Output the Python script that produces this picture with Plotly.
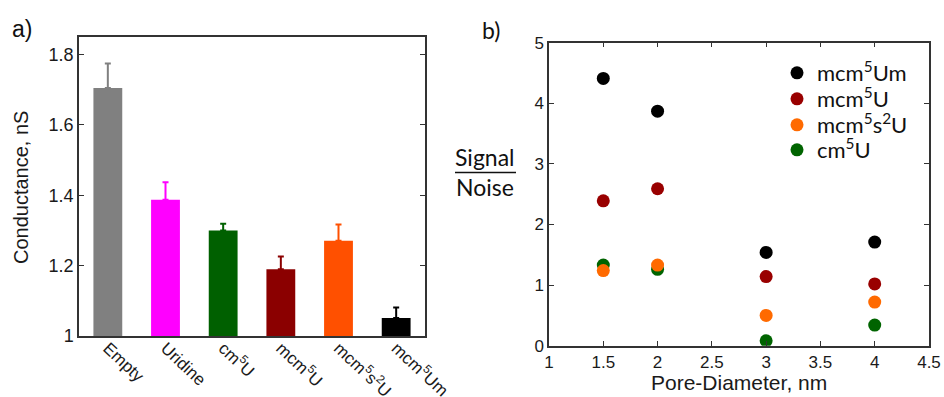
import plotly.graph_objects as go

# ---- panel a) data ----
categories = ["Empty", "Uridine", "cm<sup>5</sup>U", "mcm<sup>5</sup>U",
              "mcm<sup>5</sup>s<sup>2</sup>U", "mcm<sup>5</sup>Um"]
conductance = [1.705, 1.387, 1.300, 1.190, 1.271, 1.051]
conductance_err = [0.070, 0.050, 0.019, 0.036, 0.046, 0.030]
bar_colors = ["#808080", "#ff00ff", "#006000", "#8b0000", "#ff5000", "#000000"]
y_ticks_a = [1, 1.2, 1.4, 1.6, 1.8]
y_ticktext_a = ["1", "1.2", "1.4", "1.6", "1.8"]

# ---- panel b) data ----
pore_diameter = [1.5, 2, 3, 4]
sn_mcm5Um = [4.41, 3.87, 1.54, 1.71]
sn_mcm5U = [2.39, 2.59, 1.14, 1.02]
sn_mcm5s2U = [1.24, 1.33, 0.50, 0.72]
sn_cm5U = [1.33, 1.26, 0.08, 0.34]
series_names = ["mcm<sup>5</sup>Um", "mcm<sup>5</sup>U", "mcm<sup>5</sup>s<sup>2</sup>U", "cm<sup>5</sup>U"]
series_colors = ["#000000", "#990000", "#ff6a00", "#006400"]

W, H = 944, 397
fig = go.Figure()


def px(x):
    return x / W


def py(y):
    return 1 - y / H


# bars (one trace per category so each error bar shares its bar colour)
for cat, val, err, col in zip(categories, conductance, conductance_err, bar_colors):
    fig.add_trace(go.Bar(
        x=[cat], y=[val], base=0, width=0.5,
        marker=dict(color=col, line=dict(width=0)),
        error_y=dict(type="data", symmetric=False, array=[err], arrayminus=[0],
                     color=col, thickness=2, width=3),
        xaxis="x", yaxis="y", showlegend=False))

# scatter series (draw order: green, orange, red, black); one legend box per series
series = [sn_mcm5Um, sn_mcm5U, sn_mcm5s2U, sn_cm5U]
legend_ids = ["legend", "legend2", "legend3", "legend4"]
draw_order = [3, 2, 1, 0]
for i in draw_order:
    fig.add_trace(go.Scatter(
        x=pore_diameter, y=series[i], mode="markers", name=series_names[i],
        marker=dict(color=series_colors[i], size=13, line=dict(width=0)),
        legend=legend_ids[i], xaxis="x2", yaxis="y2"))

helv = "Liberation Sans, Arial, Helvetica, sans-serif"
cal = "Lato, Open Sans, sans-serif"
axis_col = "#333333"
txt_col = "#1a1a1a"

legend_rows_y = [73, 99, 125, 150]
legend_common = dict(x=px(777), xanchor="left", yanchor="middle",
                     font=dict(size=22, family=cal, color="#111"),
                     bgcolor="rgba(0,0,0,0)", itemsizing="trace", itemwidth=30)

fig.update_layout(
    width=W, height=H, margin=dict(l=0, r=0, t=0, b=0),
    paper_bgcolor="white", plot_bgcolor="white",
    barmode="overlay", showlegend=True,
    font=dict(family=helv, color=txt_col),
    xaxis=dict(domain=[px(79), px(425)], type="category", range=[-0.5, 5.5],
               showline=True, linecolor=axis_col, linewidth=1.5, mirror=True,
               ticks="", tickangle=43, ticklabelstandoff=-6,
               tickfont=dict(size=17, family=helv, color=txt_col),
               showgrid=False, zeroline=False, automargin=False, anchor="y"),
    yaxis=dict(domain=[py(336), py(37)], range=[1, 1.85],
               tickvals=y_ticks_a, ticktext=y_ticktext_a,
               showline=True, linecolor=axis_col, linewidth=1.5, mirror="ticks",
               ticks="inside", ticklen=5, tickcolor=axis_col,
               tickfont=dict(size=18, family=helv, color=txt_col),
               showgrid=False, zeroline=False, automargin=False, anchor="x"),
    xaxis2=dict(domain=[px(549), px(929)], range=[1, 4.5], dtick=0.5, tick0=1,
                showline=True, linecolor=axis_col, linewidth=1.5, mirror="ticks",
                ticks="inside", ticklen=5, tickcolor=axis_col,
                tickfont=dict(size=17, family=helv, color=txt_col),
                showgrid=False, zeroline=False, automargin=False, anchor="y2"),
    yaxis2=dict(domain=[py(345.7), py(42.7)], range=[0, 5], dtick=1,
                showline=True, linecolor=axis_col, linewidth=1.5, mirror="ticks",
                ticks="inside", ticklen=5, tickcolor=axis_col,
                tickfont=dict(size=17, family=helv, color=txt_col),
                showgrid=False, zeroline=False, automargin=False, anchor="x2"),
    legend=dict(y=py(legend_rows_y[0]), **legend_common),
    legend2=dict(y=py(legend_rows_y[1]), **legend_common),
    legend3=dict(y=py(legend_rows_y[2]), **legend_common),
    legend4=dict(y=py(legend_rows_y[3]), **legend_common),
)

annotations = [
    dict(text="a)", x=px(22), y=py(29), xref="paper", yref="paper", showarrow=False,
         xanchor="center", yanchor="middle", font=dict(size=23, family=helv, color="#111")),
    dict(text="b)", x=px(491), y=py(30), xref="paper", yref="paper", showarrow=False,
         xanchor="center", yanchor="middle", font=dict(size=23, family=cal, color="#111")),
    dict(text="Signal", x=px(485), y=py(157), xref="paper", yref="paper", showarrow=False,
         xanchor="center", yanchor="middle", font=dict(size=23, family=cal, color="#111")),
    dict(text="Noise", x=px(485), y=py(187), xref="paper", yref="paper", showarrow=False,
         xanchor="center", yanchor="middle", font=dict(size=23, family=cal, color="#111")),
    dict(text="Conductance, nS", x=px(21), y=py(188), xref="paper", yref="paper",
         showarrow=False, textangle=-90, xanchor="center", yanchor="middle",
         font=dict(size=20, family=helv, color=txt_col)),
    dict(text="Pore-Diameter, nm", x=px(739), y=py(382), xref="paper", yref="paper",
         showarrow=False, xanchor="center", yanchor="middle",
         font=dict(size=21, family=helv, color=txt_col)),
]
fig.update_layout(annotations=annotations)
fig.add_shape(type="line", xref="paper", yref="paper", x0=px(455), x1=px(516),
              y0=py(172.5), y1=py(172.5), line=dict(color="#111", width=1.6))

fig.write_html("out.html", config={"displayModeBar": False},
               post_script="document.body.style.margin='0';document.body.style.overflow='hidden';")
